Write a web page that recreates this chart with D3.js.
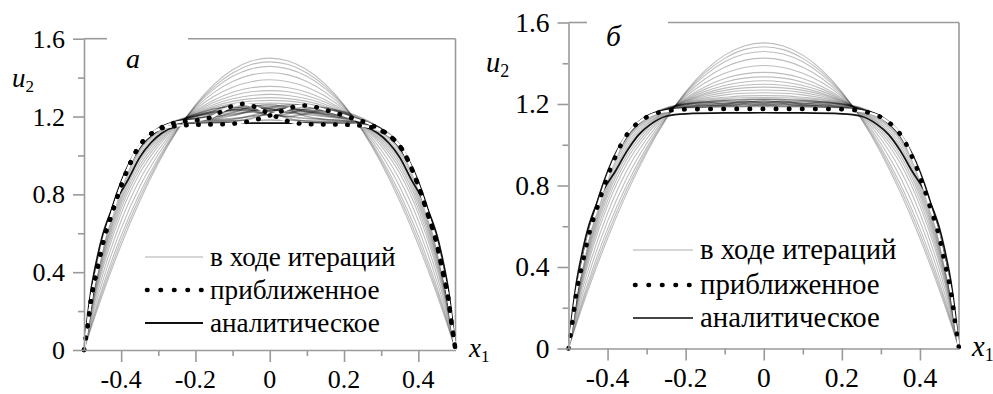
<!DOCTYPE html>
<html><head><meta charset="utf-8">
<script src="https://cdn.jsdelivr.net/npm/d3@7"></script>
<style>
html body svg#chart text, html body svg#chart tspan { font-family: "Liberation Serif", "Times New Roman", Times, serif !important; }
</style>
</head><body style="margin:0">
<svg id="chart" width="993" height="394"></svg>
<script>
// ---------------- DATA ----------------
const xTicks = [-0.4, -0.2, 0, 0.2, 0.4];
const xTickLabels = ["-0.4", "-0.2", "0", "0.2", "0.4"];
const xMinorTicks = [-0.3, -0.1, 0.1, 0.3];
const yTicks = [0, 0.4, 0.8, 1.2, 1.6];
const yTickLabels = ["0", "0.4", "0.8", "1.2", "1.6"];
const yMinorTicks = [0.2, 0.6, 1.0, 1.4];
const legendLabels = ["в ходе итераций", "приближенное", "аналитическое"];
const panelLabels = ["а", "б"];

// x grid of the iteration curves
const gridX = [-0.5,-0.47,-0.44,-0.4,-0.35,-0.3,-0.25,-0.2,-0.15,-0.1,-0.05,0,0.05,0.1,0.15,0.2,0.25,0.3,0.35,0.4,0.44,0.47,0.5];

// u2 during the iterations (both panels)
const iterations = [
 [0,.175,.338,.54,.765,.96,1.125,1.26,1.365,1.44,1.485,1.5,1.485,1.44,1.365,1.26,1.125,.96,.765,.54,.338,.175,0],
 [0,.188,.357,.562,.784,.972,1.129,1.256,1.354,1.424,1.467,1.481,1.467,1.424,1.354,1.256,1.129,.972,.784,.562,.357,.188,0],
 [0,.202,.379,.587,.806,.986,1.133,1.251,1.342,1.407,1.445,1.458,1.445,1.407,1.342,1.251,1.133,.986,.806,.587,.379,.202,0],
 [0,.225,.412,.624,.839,1.006,1.139,1.244,1.324,1.38,1.414,1.425,1.414,1.38,1.324,1.244,1.139,1.006,.839,.624,.412,.225,0],
 [0,.249,.447,.664,.875,1.028,1.145,1.236,1.304,1.351,1.379,1.389,1.379,1.351,1.304,1.236,1.145,1.028,.875,.664,.447,.249,0],
 [0,.271,.48,.701,.908,1.048,1.151,1.229,1.285,1.325,1.348,1.355,1.348,1.325,1.285,1.229,1.151,1.048,.908,.701,.48,.271,0],
 [0,.286,.501,.726,.93,1.062,1.155,1.224,1.273,1.307,1.327,1.333,1.327,1.307,1.273,1.224,1.155,1.062,.93,.726,.501,.286,0],
 [0,.299,.52,.748,.949,1.074,1.159,1.22,1.262,1.291,1.308,1.314,1.308,1.291,1.262,1.22,1.159,1.074,.949,.748,.52,.299,0],
 [0,.31,.537,.766,.966,1.084,1.162,1.216,1.253,1.278,1.292,1.297,1.292,1.278,1.253,1.216,1.162,1.084,.966,.766,.537,.31,0],
 [0,.319,.55,.782,.98,1.093,1.164,1.213,1.246,1.267,1.279,1.283,1.279,1.267,1.246,1.213,1.164,1.093,.98,.782,.55,.319,0],
 [0,.329,.564,.797,.993,1.101,1.167,1.21,1.238,1.256,1.266,1.269,1.266,1.256,1.238,1.21,1.167,1.101,.993,.797,.564,.329,0],
 [0,.338,.577,.813,1.007,1.11,1.169,1.207,1.23,1.245,1.253,1.255,1.253,1.245,1.23,1.207,1.169,1.11,1.007,.813,.577,.338,0],
 [0,.347,.591,.828,1.021,1.118,1.172,1.204,1.223,1.233,1.24,1.241,1.24,1.233,1.223,1.204,1.172,1.118,1.021,.828,.591,.347,0],
 [0,.352,.6,.838,1.03,1.124,1.173,1.202,1.218,1.226,1.231,1.232,1.231,1.226,1.218,1.202,1.173,1.124,1.03,.838,.6,.352,0],
 [0,.36,.61,.85,1.04,1.13,1.175,1.2,1.212,1.218,1.221,1.222,1.221,1.218,1.212,1.2,1.175,1.13,1.04,.85,.61,.36,0]
];
// last iterations, panel a (wavy band)
const bandA = [
 [0,.37,.62,.86,1.045,1.135,1.178,1.19,1.205,1.24,1.255,1.225,1.19,1.175,1.17,1.17,1.165,1.13,1.04,.85,.61,.36,0],
 [0,.37,.62,.86,1.045,1.135,1.165,1.17,1.17,1.175,1.19,1.22,1.25,1.25,1.23,1.2,1.18,1.135,1.045,.86,.62,.37,0],
 [0,.365,.615,.855,1.04,1.13,1.17,1.2,1.23,1.26,1.26,1.24,1.22,1.21,1.2,1.19,1.175,1.13,1.04,.855,.615,.365,0],
 [0,.365,.615,.855,1.04,1.13,1.175,1.19,1.2,1.21,1.225,1.245,1.26,1.26,1.24,1.215,1.18,1.13,1.04,.855,.615,.365,0],
 [0,.375,.625,.865,1.05,1.14,1.172,1.18,1.185,1.19,1.2,1.21,1.2,1.19,1.185,1.18,1.17,1.135,1.05,.865,.625,.375,0],
 [0,.38,.63,.87,1.055,1.14,1.168,1.172,1.175,1.178,1.18,1.182,1.18,1.178,1.175,1.172,1.168,1.14,1.055,.87,.63,.38,0],
 [0,.37,.62,.86,1.045,1.135,1.18,1.21,1.24,1.25,1.235,1.21,1.2,1.215,1.235,1.225,1.19,1.135,1.045,.86,.62,.37,0],
 [0,.372,.622,.862,1.047,1.137,1.176,1.2,1.22,1.235,1.245,1.238,1.228,1.225,1.215,1.2,1.178,1.133,1.045,.86,.62,.37,0],
 [0,.368,.618,.858,1.043,1.133,1.172,1.185,1.195,1.22,1.25,1.262,1.245,1.222,1.205,1.19,1.17,1.132,1.043,.858,.618,.368,0],
 [0,.374,.624,.864,1.048,1.138,1.174,1.188,1.212,1.232,1.228,1.205,1.215,1.24,1.245,1.22,1.182,1.136,1.048,.864,.624,.374,0],
 [0,.362,.612,.852,1.038,1.128,1.176,1.205,1.225,1.235,1.238,1.232,1.238,1.235,1.225,1.205,1.176,1.128,1.038,.852,.612,.362,0],
 [0,.366,.616,.856,1.042,1.132,1.17,1.178,1.19,1.205,1.23,1.25,1.235,1.2,1.185,1.178,1.168,1.131,1.041,.856,.616,.366,0],
 [0,.371,.621,.861,1.046,1.136,1.172,1.182,1.18,1.185,1.205,1.228,1.242,1.23,1.21,1.195,1.176,1.134,1.046,.861,.621,.371,0]
];
// last iterations, panel b (flat band)
const bandB = [
 [0,.37,.62,.86,1.045,1.135,1.172,1.19,1.2,1.205,1.21,1.212,1.21,1.205,1.2,1.19,1.172,1.135,1.045,.86,.62,.37,0],
 [0,.375,.625,.865,1.05,1.14,1.17,1.182,1.19,1.195,1.2,1.2,1.2,1.195,1.19,1.182,1.17,1.14,1.05,.865,.625,.375,0],
 [0,.38,.63,.87,1.055,1.14,1.168,1.178,1.182,1.185,1.187,1.188,1.187,1.185,1.182,1.178,1.168,1.14,1.055,.87,.63,.38,0],
 [0,.365,.615,.855,1.04,1.135,1.18,1.2,1.21,1.218,1.222,1.224,1.222,1.218,1.21,1.2,1.18,1.135,1.04,.855,.615,.365,0],
 [0,.37,.62,.86,1.045,1.135,1.175,1.195,1.21,1.2,1.215,1.205,1.215,1.2,1.21,1.195,1.175,1.135,1.045,.86,.62,.37,0],
 [0,.368,.618,.858,1.043,1.133,1.177,1.198,1.205,1.212,1.208,1.216,1.208,1.212,1.205,1.198,1.177,1.133,1.043,.858,.618,.368,0],
 [0,.372,.622,.862,1.047,1.137,1.174,1.186,1.193,1.2,1.204,1.206,1.204,1.2,1.193,1.186,1.174,1.137,1.047,.862,.622,.372,0],
 [0,.376,.626,.866,1.05,1.139,1.171,1.184,1.196,1.19,1.198,1.193,1.198,1.19,1.196,1.184,1.171,1.139,1.05,.866,.626,.376,0],
 [0,.378,.628,.868,1.052,1.14,1.169,1.18,1.186,1.192,1.19,1.196,1.19,1.192,1.186,1.18,1.169,1.14,1.052,.868,.628,.378,0]
];

// analytic solution
const analyticX = [-0.5,-0.49,-0.48,-0.465,-0.45,-0.43,-0.41,-0.38,-0.35,-0.32,-0.29,-0.25,-0.2,-0.1,0,0.1,0.2,0.25,0.29,0.32,0.35,0.38,0.41,0.43,0.45,0.465,0.48,0.49,0.5];
const analyticA = [0,.18,.32,.47,.59,.70,.78,.88,.99,1.065,1.115,1.15,1.162,1.166,1.166,1.166,1.162,1.15,1.115,1.065,.99,.88,.78,.70,.59,.47,.32,.18,0];
const analyticB = [0,.18,.32,.47,.59,.70,.78,.87,.97,1.05,1.1,1.14,1.152,1.156,1.157,1.156,1.152,1.14,1.1,1.05,.97,.87,.78,.70,.59,.47,.32,.18,0];

// approximate solution, panel a (two dotted curves)
const approxA1X = [-0.5,-0.49,-0.48,-0.465,-0.445,-0.425,-0.41,-0.395,-0.38,-0.36,-0.34,-0.32,-0.29,-0.25,-0.2,-0.16,-0.13,-0.1,-0.07,-0.04,-0.01,0.02,0.05,0.08,0.12,0.2,0.25,0.29,0.32,0.34,0.36,0.38,0.395,0.41,0.425,0.445,0.465,0.48,0.49,0.5];
const approxA1 = [0,.13,.27,.41,.58,.70,.79,.87,.94,1.02,1.075,1.11,1.145,1.17,1.18,1.195,1.225,1.255,1.265,1.25,1.222,1.197,1.175,1.164,1.16,1.158,1.152,1.135,1.105,1.07,1.02,.94,.87,.79,.70,.58,.41,.27,.13,0];
const approxA2X = [-0.5,-0.49,-0.48,-0.465,-0.445,-0.425,-0.41,-0.395,-0.38,-0.36,-0.34,-0.32,-0.29,-0.25,-0.2,-0.12,-0.08,-0.05,-0.02,0.01,0.04,0.07,0.1,0.13,0.16,0.2,0.235,0.265,0.29,0.32,0.34,0.36,0.38,0.395,0.41,0.425,0.445,0.465,0.48,0.49,0.5];
const approxA2 = [0,.13,.27,.41,.58,.70,.79,.87,.94,1.02,1.075,1.11,1.14,1.152,1.158,1.161,1.167,1.178,1.193,1.212,1.233,1.252,1.257,1.245,1.228,1.205,1.183,1.165,1.14,1.105,1.07,1.02,.94,.87,.79,.70,.58,.41,.27,.13,0];
// approximate solution, panel b
const approxBX = [-0.5,-0.49,-0.48,-0.465,-0.445,-0.425,-0.41,-0.395,-0.38,-0.36,-0.34,-0.32,-0.29,-0.25,-0.2,-0.1,0,0.1,0.2,0.25,0.29,0.32,0.34,0.36,0.38,0.395,0.41,0.425,0.445,0.465,0.48,0.49,0.5];
const approxB = [0,.13,.27,.41,.58,.70,.79,.87,.94,1.02,1.075,1.11,1.145,1.165,1.174,1.176,1.176,1.176,1.174,1.165,1.145,1.11,1.075,1.02,.94,.87,.79,.70,.58,.41,.27,.13,0];

// ---------------- DRAWING ----------------
const svg = d3.select("#chart");
const zip = (xs, ys) => xs.map((v, i) => [v, ys[i]]);
const SERIF = '"Liberation Serif", "Times New Roman", Times, serif';

const panels = [
  {label: panelLabels[0], x0: 84, x1: 455.5, y0: 350, y1: 38.7, gap: [107, 188], fs: 26, lfs: 27.2,
   labelPos: [126, 68], uPos: [12, 87], xPos: [469, 357],
   leg: {x0: 145, x1: 203, tx: 210, ys: [257, 290, 323]}, dash: "0.5 11.6",
   gray: iterations, band: bandA, analytic: analyticA, approx: [zip(approxA1X, approxA1), zip(approxA2X, approxA2)],
   legSolid: "#111"},
  {label: panelLabels[1], x0: 568.5, x1: 959, y0: 348.5, y1: 22.5, gap: [587, 668], fs: 27.5, lfs: 28.8,
   labelPos: [606, 46], uPos: [486, 72], xPos: [972, 356],
   leg: {x0: 633, x1: 693, tx: 700, ys: [250, 285, 318]}, dash: "0.5 12.6",
   gray: iterations, band: bandB, analytic: analyticB, approx: [zip(approxBX, approxB)],
   legSolid: "#444"}
];

const axisColor = "#9a9a9a";
const texts = [];
function addText(x, y, size, content, opts = {}) { texts.push({x, y, size, content, ...opts}); }

panels.forEach(p => {
  const x = d3.scaleLinear().domain([-0.5, 0.5]).range([p.x0, p.x1]);
  const y = d3.scaleLinear().domain([0, 1.6]).range([p.y0, p.y1]);
  const g = svg.append("g");
  const line = d3.line().x(d => x(d[0])).y(d => y(d[1])).curve(d3.curveMonotoneX);

  // frame: top (with gap for the label) and right
  g.append("line").attr("x1", x(-0.5)).attr("x2", p.gap[0]).attr("y1", y(1.6)).attr("y2", y(1.6))
    .attr("stroke", axisColor).attr("stroke-width", 1.6);
  g.append("line").attr("x1", p.gap[1]).attr("x2", x(0.5)).attr("y1", y(1.6)).attr("y2", y(1.6))
    .attr("stroke", axisColor).attr("stroke-width", 1.6);
  g.append("line").attr("x1", x(0.5)).attr("x2", x(0.5)).attr("y1", y(1.6)).attr("y2", y(0))
    .attr("stroke", axisColor).attr("stroke-width", 1.6);

  // iteration curves
  p.gray.forEach(row => {
    g.append("path").attr("d", line(zip(gridX, row))).attr("fill", "none")
      .attr("stroke", "#000").attr("stroke-opacity", 0.26).attr("stroke-width", 1.1);
  });
  p.band.forEach(row => {
    g.append("path").attr("d", line(zip(gridX, row))).attr("fill", "none")
      .attr("stroke", "#000").attr("stroke-opacity", 0.33).attr("stroke-width", 1.6);
  });

  // analytic
  g.append("path").attr("d", line(zip(analyticX, p.analytic))).attr("fill", "none")
    .attr("stroke", "#111").attr("stroke-width", 1.7);

  // approximate (white underlay + black dots)
  p.approx.forEach(pts => {
    g.append("path").attr("d", line(pts)).attr("fill", "none")
      .attr("stroke", "#fff").attr("stroke-width", 2.2);
  });
  p.approx.forEach(pts => {
    g.append("path").attr("d", line(pts)).attr("fill", "none")
      .attr("stroke", "#000").attr("stroke-width", 4.6).attr("stroke-linecap", "round")
      .attr("stroke-dasharray", p.dash);
  });

  // axes (lines and ticks by d3; labels placed with the same scales)
  g.append("g").attr("transform", `translate(${p.x0},0)`)
    .call(d3.axisLeft(y).tickValues(yTicks).tickFormat("").tickSize(11).tickSizeOuter(0));
  g.append("g").attr("transform", `translate(${p.x0},0)`)
    .call(d3.axisLeft(y).tickValues(yMinorTicks).tickFormat("").tickSize(6).tickSizeOuter(0))
    .select(".domain").remove();
  g.append("g").attr("transform", `translate(0,${p.y0})`)
    .call(d3.axisBottom(x).tickValues(xTicks).tickFormat("").tickSize(12).tickSizeOuter(0));
  g.append("g").attr("transform", `translate(0,${p.y0})`)
    .call(d3.axisBottom(x).tickValues(xMinorTicks).tickFormat("").tickSize(6).tickSizeOuter(0))
    .select(".domain").remove();
  g.selectAll(".domain, .tick line").attr("stroke", axisColor).attr("stroke-width", 1.6);
  g.selectAll(".tick text").remove();
  g.selectAll("g").attr("font-family", null).attr("font-size", null);

  yTicks.forEach((v, i) => addText(p.x0 - 19, y(v) + 9, p.fs, yTickLabels[i], {anchor: "end"}));
  xTicks.forEach((v, i) => addText(x(v), p.y0 + 38, p.fs, xTickLabels[i], {anchor: "middle"}));

  addText(p.uPos[0], p.uPos[1], p.fs + 1, "u", {italic: true, sub: "2"});
  addText(p.xPos[0], p.xPos[1], p.fs + 1, "x", {italic: true, sub: "1"});
  addText(p.labelPos[0], p.labelPos[1], p.fs + 2, p.label, {italic: true});

  // legend
  const L = p.leg;
  g.append("line").attr("x1", L.x0).attr("x2", L.x1).attr("y1", L.ys[0]).attr("y2", L.ys[0])
    .attr("stroke", "#c8c8c8").attr("stroke-width", 1.6);
  g.append("line").attr("x1", L.x0 + 2).attr("x2", L.x1).attr("y1", L.ys[1]).attr("y2", L.ys[1])
    .attr("stroke", "#000").attr("stroke-width", 4.6).attr("stroke-linecap", "round").attr("stroke-dasharray", "0.5 13");
  g.append("line").attr("x1", L.x0).attr("x2", L.x1).attr("y1", L.ys[2]).attr("y2", L.ys[2])
    .attr("stroke", p.legSolid).attr("stroke-width", 1.8);
  legendLabels.forEach((t, i) => addText(L.tx, L.ys[i] + 9, p.lfs, t));
});

const setSerif = el => { el.attr("font-family", "Liberation Serif"); el.node().style.setProperty("font-family", SERIF, "important"); return el; };

texts.forEach(t => {
  const el = setSerif(svg.append("text"))
    .attr("font-size", t.size)
    .attr("x", t.x).attr("y", t.y)
    .attr("text-anchor", t.anchor || "start");
  if (t.sub) {
    setSerif(el.append("tspan")).attr("font-style", "italic").text(t.content);
    setSerif(el.append("tspan")).attr("font-size", Math.round(t.size * 0.62)).attr("dy", 5).text(t.sub);
  } else {
    if (t.italic) el.attr("font-style", "italic");
    el.text(t.content);
  }
});
</script>
</body></html>
